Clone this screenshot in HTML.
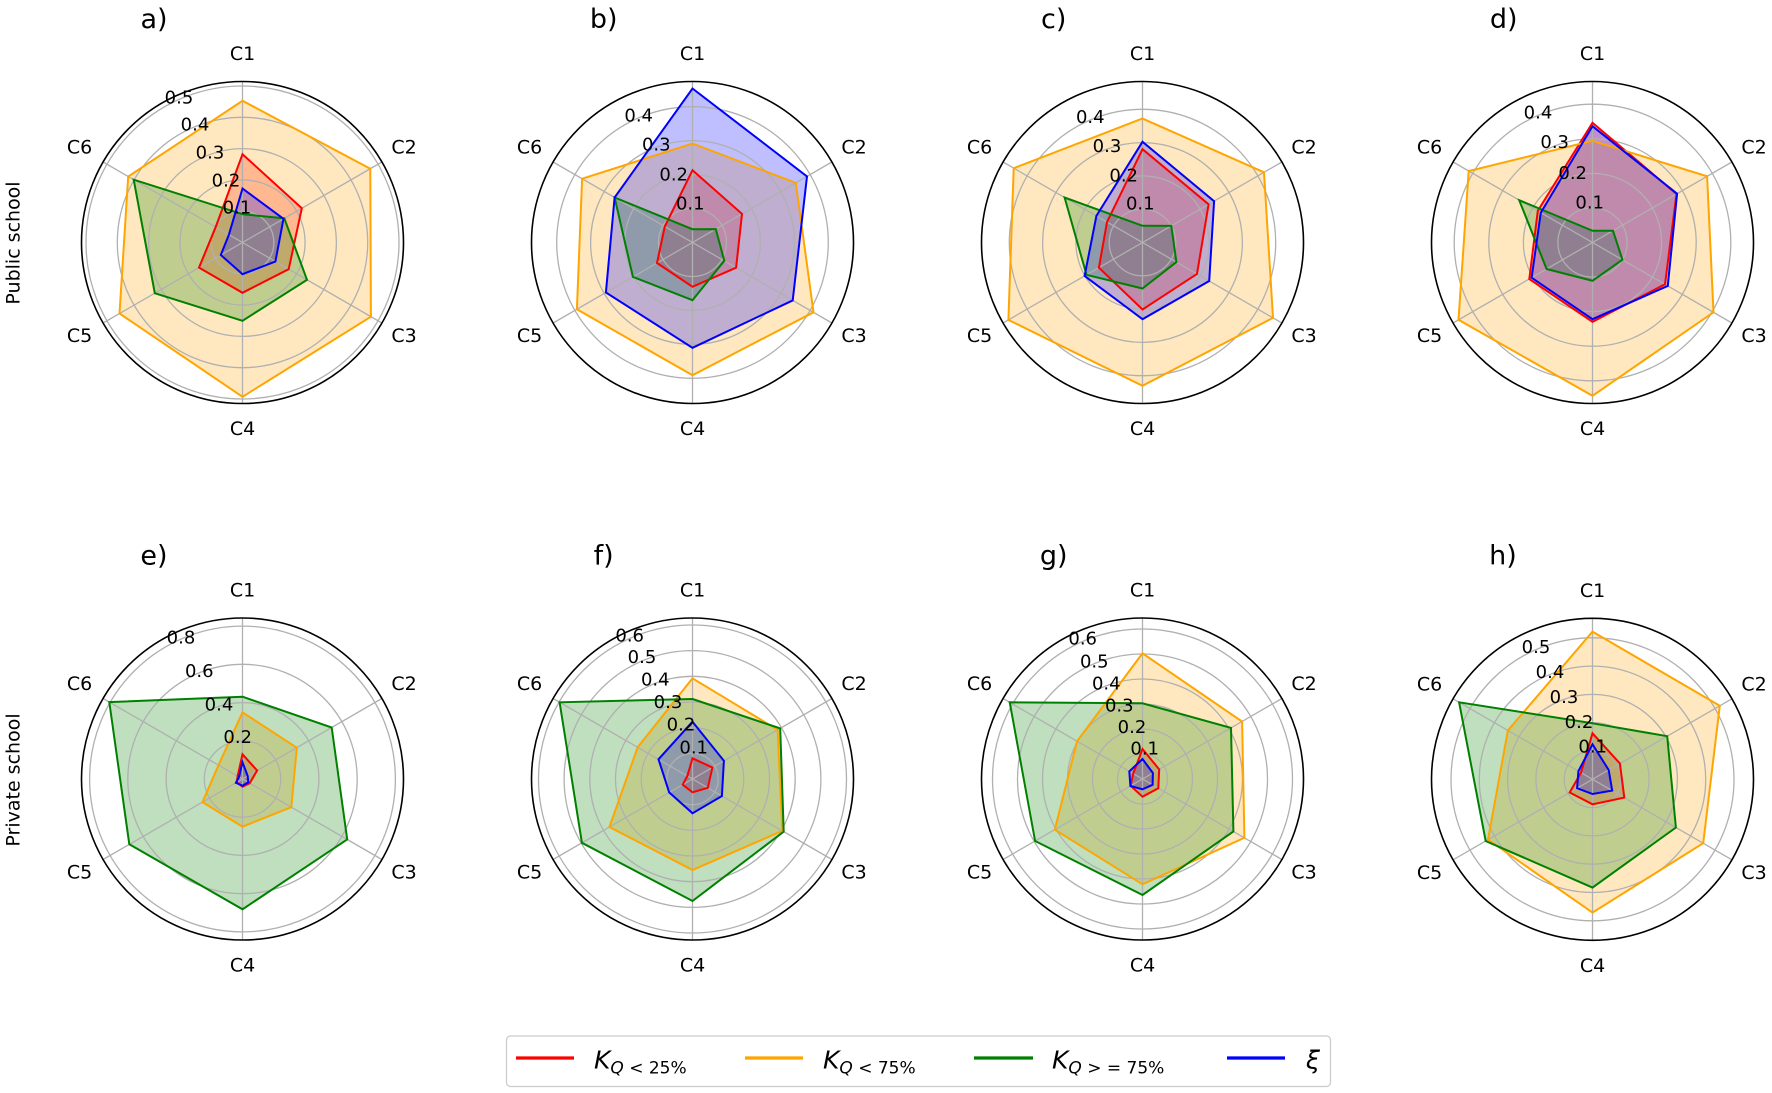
<!DOCTYPE html>
<html><head><meta charset="utf-8"><style>
html,body{margin:0;padding:0;background:#fff;}
svg{display:block;}
text{font-family:"DejaVu Sans","Liberation Sans",sans-serif;fill:#000;}
.fr{fill:#ff0000;fill-opacity:.25;stroke:none}
.fo{fill:#ffa500;fill-opacity:.25;stroke:none}
.fg{fill:#008000;fill-opacity:.25;stroke:none}
.fb{fill:#0000ff;fill-opacity:.25;stroke:none}
.lr{fill:none;stroke:#ff0000;stroke-width:2}
.lo{fill:none;stroke:#ffa500;stroke-width:2}
.lg{fill:none;stroke:#008000;stroke-width:2}
.lb{fill:none;stroke:#0000ff;stroke-width:2}
.grid{fill:none;stroke:#b0b0b0;stroke-width:1.3}
.sp{fill:none;stroke:#000;stroke-width:1.6}
.cl text{font-size:19px;text-anchor:middle}
.rl text{font-size:18px;text-anchor:middle}
.tt{font-size:27px;text-anchor:middle}
</style></head><body>
<svg width="1772" height="1093" viewBox="0 0 1772 1093" xmlns="http://www.w3.org/2000/svg">
<defs>
<path id="spk" d="M0,-161V161M-139.4,-80.5L139.4,80.5M-139.4,80.5L139.4,-80.5" class="grid"/>
</defs>
<rect width="1772" height="1093" fill="#fff"/>

<!-- a -->
<g transform="translate(242.5,242.5)">
<polygon class="fr" points="0,-88.3 59.3,-34.3 46.2,26.7 0,50.3 -43.5,25.1 -26.8,-15.5"/>
<polygon class="fo" points="0,-141.7 127.8,-73.8 128.4,74.2 0,154.3 -123,71 -114.3,-66"/>
<polygon class="fg" points="0,-28.3 41.8,-24.2 64.5,37.3 0,78.3 -87.7,50.7 -108.8,-62.8"/>
<polygon class="fb" points="0,-54 41,-23.7 32.9,19 0,31.7 -21.7,12.5 -13.6,-7.8"/>
<g class="grid"><circle r="31.3"/><circle r="62.6"/><circle r="93.9"/><circle r="125.2"/><circle r="156.5"/></g>
<use href="#spk"/>
<polygon class="lr" points="0,-88.3 59.3,-34.3 46.2,26.7 0,50.3 -43.5,25.1 -26.8,-15.5"/>
<polygon class="lo" points="0,-141.7 127.8,-73.8 128.4,74.2 0,154.3 -123,71 -114.3,-66"/>
<polygon class="lg" points="0,-28.3 41.8,-24.2 64.5,37.3 0,78.3 -87.7,50.7 -108.8,-62.8"/>
<polygon class="lb" points="0,-54 41,-23.7 32.9,19 0,31.7 -21.7,12.5 -13.6,-7.8"/>
<circle class="sp" r="161"/>
<g class="cl"><text x="0" y="-189" dy=".35em">C1</text><text x="161.5" y="-95.5" dy=".35em">C2</text><text x="161.5" y="93" dy=".35em">C3</text><text x="0" y="186" dy=".35em">C4</text><text x="-163" y="93" dy=".35em">C5</text><text x="-163" y="-95.5" dy=".35em">C6</text></g>
</g>
<g class="rl"><text x="237" y="207" dy=".35em">0.1</text><text x="226" y="180" dy=".35em">0.2</text><text x="210" y="152" dy=".35em">0.3</text><text x="195" y="124" dy=".35em">0.4</text><text x="179" y="97" dy=".35em">0.5</text></g>
<text class="tt" x="154" y="28">a)</text>

<!-- b -->
<g transform="translate(692.5,242.5)">
<polygon class="fr" points="0,-72.3 49.5,-28.6 43.6,25.2 0,44.3 -35.5,20.5 -27.7,-16"/>
<polygon class="fo" points="0,-99 103.3,-59.7 121,69.8 0,132.7 -115.6,66.8 -110.4,-63.8"/>
<polygon class="fg" points="0,-13.3 23.3,-13.4 31.8,18.3 0,57.7 -59.6,34.4 -77.9,-45"/>
<polygon class="fb" points="0,-154 114.5,-66.1 100.2,57.9 0,105.3 -86.6,50 -77.9,-45"/>
<g class="grid"><circle r="34"/><circle r="67.9"/><circle r="101.9"/><circle r="135.8"/></g>
<use href="#spk"/>
<polygon class="lr" points="0,-72.3 49.5,-28.6 43.6,25.2 0,44.3 -35.5,20.5 -27.7,-16"/>
<polygon class="lo" points="0,-99 103.3,-59.7 121,69.8 0,132.7 -115.6,66.8 -110.4,-63.8"/>
<polygon class="lg" points="0,-13.3 23.3,-13.4 31.8,18.3 0,57.7 -59.6,34.4 -77.9,-45"/>
<polygon class="lb" points="0,-154 114.5,-66.1 100.2,57.9 0,105.3 -86.6,50 -77.9,-45"/>
<circle class="sp" r="161"/>
<g class="cl"><text x="0" y="-189" dy=".35em">C1</text><text x="161.5" y="-95.5" dy=".35em">C2</text><text x="161.5" y="93" dy=".35em">C3</text><text x="0" y="186" dy=".35em">C4</text><text x="-163" y="93" dy=".35em">C5</text><text x="-163" y="-95.5" dy=".35em">C6</text></g>
</g>
<g class="rl"><text x="690.3" y="203.3" dy=".35em">0.1</text><text x="673.7" y="174" dy=".35em">0.2</text><text x="656.3" y="144" dy=".35em">0.3</text><text x="638.7" y="115" dy=".35em">0.4</text></g>
<text class="tt" x="603.7" y="28">b)</text>

<!-- c -->
<g transform="translate(1142.5,242.5)">
<polygon class="fr" points="0,-93.3 66.1,-38.2 54.5,31.4 0,67 -43.6,25.2 -35.5,-20.5"/>
<polygon class="fo" points="0,-124 121.5,-70.2 130.5,75.3 0,143.3 -134.1,77.4 -128.8,-74.3"/>
<polygon class="fg" points="0,-16.7 28.8,-16.6 33.9,19.6 0,46 -56,32.3 -77.9,-45"/>
<polygon class="fb" points="0,-100.7 71.6,-41.3 66.7,38.5 0,76.7 -57.9,33.4 -46.1,-26.6"/>
<g class="grid"><circle r="33.3"/><circle r="66.6"/><circle r="99.9"/><circle r="133.2"/></g>
<use href="#spk"/>
<polygon class="lr" points="0,-93.3 66.1,-38.2 54.5,31.4 0,67 -43.6,25.2 -35.5,-20.5"/>
<polygon class="lo" points="0,-124 121.5,-70.2 130.5,75.3 0,143.3 -134.1,77.4 -128.8,-74.3"/>
<polygon class="lg" points="0,-16.7 28.8,-16.6 33.9,19.6 0,46 -56,32.3 -77.9,-45"/>
<polygon class="lb" points="0,-100.7 71.6,-41.3 66.7,38.5 0,76.7 -57.9,33.4 -46.1,-26.6"/>
<circle class="sp" r="161"/>
<g class="cl"><text x="0" y="-189" dy=".35em">C1</text><text x="161.5" y="-95.5" dy=".35em">C2</text><text x="161.5" y="93" dy=".35em">C3</text><text x="0" y="186" dy=".35em">C4</text><text x="-163" y="93" dy=".35em">C5</text><text x="-163" y="-95.5" dy=".35em">C6</text></g>
</g>
<g class="rl"><text x="1140.3" y="203.3" dy=".35em">0.1</text><text x="1123.7" y="175" dy=".35em">0.2</text><text x="1107" y="145.7" dy=".35em">0.3</text><text x="1090.3" y="116.7" dy=".35em">0.4</text></g>
<text class="tt" x="1053.7" y="28">c)</text>

<!-- d -->
<g transform="translate(1592.5,242.5)">
<polygon class="fr" points="0,-119.7 84,-48.5 72.5,41.8 0,79.3 -63.2,36.5 -54.7,-31.6"/>
<polygon class="fo" points="0,-101.7 114.6,-66.2 121,69.8 0,153.3 -134,77.3 -123.8,-71.5"/>
<polygon class="fg" points="0,-11.7 20.5,-11.8 29.9,17.2 0,38.3 -45.9,26.5 -73.3,-42.3"/>
<polygon class="fb" points="0,-116.3 84.6,-48.8 75.3,43.4 0,76.7 -60.9,35.2 -51.7,-29.8"/>
<g class="grid"><circle r="34.6"/><circle r="69.1"/><circle r="103.7"/><circle r="138.3"/></g>
<use href="#spk"/>
<polygon class="lr" points="0,-119.7 84,-48.5 72.5,41.8 0,79.3 -63.2,36.5 -54.7,-31.6"/>
<polygon class="lo" points="0,-101.7 114.6,-66.2 121,69.8 0,153.3 -134,77.3 -123.8,-71.5"/>
<polygon class="lg" points="0,-11.7 20.5,-11.8 29.9,17.2 0,38.3 -45.9,26.5 -73.3,-42.3"/>
<polygon class="lb" points="0,-116.3 84.6,-48.8 75.3,43.4 0,76.7 -60.9,35.2 -51.7,-29.8"/>
<circle class="sp" r="161"/>
<g class="cl"><text x="0" y="-189" dy=".35em">C1</text><text x="161.5" y="-95.5" dy=".35em">C2</text><text x="161.5" y="93" dy=".35em">C3</text><text x="0" y="186" dy=".35em">C4</text><text x="-163" y="93" dy=".35em">C5</text><text x="-163" y="-95.5" dy=".35em">C6</text></g>
</g>
<g class="rl"><text x="1589.7" y="202.3" dy=".35em">0.1</text><text x="1572.7" y="172.7" dy=".35em">0.2</text><text x="1554.7" y="141.7" dy=".35em">0.3</text><text x="1538" y="112.3" dy=".35em">0.4</text></g>
<text class="tt" x="1503.7" y="28">d)</text>

<!-- e -->
<g transform="translate(242.5,779)">
<polygon class="fr" points="0,-24.7 14.6,-8.5 7.2,4.2 0,7.7 -5.8,3.3 -4.9,-2.8"/>
<polygon class="fo" points="0,-66.7 54.3,-31.3 48.8,28.2 0,47.7 -40,23.1 -24,-13.8"/>
<polygon class="fg" points="0,-82.3 89.2,-51.5 104.7,60.4 0,130.3 -113.2,65.3 -133.2,-76.9"/>
<polygon class="fb" points="0,-16.7 5.2,-3 5.8,3.3 0,6.7 -6.6,3.8 -3.5,-2"/>
<g class="grid"><circle r="38.2"/><circle r="76.4"/><circle r="114.7"/><circle r="152.9"/></g>
<use href="#spk"/>
<polygon class="lr" points="0,-24.7 14.6,-8.5 7.2,4.2 0,7.7 -5.8,3.3 -4.9,-2.8"/>
<polygon class="lo" points="0,-66.7 54.3,-31.3 48.8,28.2 0,47.7 -40,23.1 -24,-13.8"/>
<polygon class="lg" points="0,-82.3 89.2,-51.5 104.7,60.4 0,130.3 -113.2,65.3 -133.2,-76.9"/>
<polygon class="lb" points="0,-16.7 5.2,-3 5.8,3.3 0,6.7 -6.6,3.8 -3.5,-2"/>
<circle class="sp" r="161"/>
<g class="cl"><text x="0" y="-189" dy=".35em">C1</text><text x="161.5" y="-95.5" dy=".35em">C2</text><text x="161.5" y="93" dy=".35em">C3</text><text x="0" y="186" dy=".35em">C4</text><text x="-163" y="93" dy=".35em">C5</text><text x="-163" y="-95.5" dy=".35em">C6</text></g>
</g>
<g class="rl"><text x="237.7" y="736.7" dy=".35em">0.2</text><text x="219" y="704" dy=".35em">0.4</text><text x="199.3" y="670.7" dy=".35em">0.6</text><text x="181" y="637.3" dy=".35em">0.8</text></g>
<text class="tt" x="154" y="564.5">e)</text>

<!-- f -->
<g transform="translate(692.5,779)">
<polygon class="fr" points="0,-20.7 19.9,-11.5 15.3,8.8 0,13.3 -9.8,5.7 -5.2,-3"/>
<polygon class="fo" points="0,-100.7 85.1,-49.2 89.8,51.8 0,91 -83.1,48 -54.8,-31.7"/>
<polygon class="fg" points="0,-80 87.7,-50.6 91.2,52.7 0,122 -110.6,63.8 -132.9,-76.7"/>
<polygon class="fb" points="0,-57.3 31.4,-18.2 29.4,17 0,34.3 -23.3,13.4 -34,-19.7"/>
<g class="grid"><circle r="25.7"/><circle r="51.3"/><circle r="77"/><circle r="102.7"/><circle r="128.4"/><circle r="154"/></g>
<use href="#spk"/>
<polygon class="lr" points="0,-20.7 19.9,-11.5 15.3,8.8 0,13.3 -9.8,5.7 -5.2,-3"/>
<polygon class="lo" points="0,-100.7 85.1,-49.2 89.8,51.8 0,91 -83.1,48 -54.8,-31.7"/>
<polygon class="lg" points="0,-80 87.7,-50.6 91.2,52.7 0,122 -110.6,63.8 -132.9,-76.7"/>
<polygon class="lb" points="0,-57.3 31.4,-18.2 29.4,17 0,34.3 -23.3,13.4 -34,-19.7"/>
<circle class="sp" r="161"/>
<g class="cl"><text x="0" y="-189" dy=".35em">C1</text><text x="161.5" y="-95.5" dy=".35em">C2</text><text x="161.5" y="93" dy=".35em">C3</text><text x="0" y="186" dy=".35em">C4</text><text x="-163" y="93" dy=".35em">C5</text><text x="-163" y="-95.5" dy=".35em">C6</text></g>
</g>
<g class="rl"><text x="693.7" y="747.3" dy=".35em">0.1</text><text x="681" y="724.3" dy=".35em">0.2</text><text x="668" y="701.7" dy=".35em">0.3</text><text x="655.3" y="679.3" dy=".35em">0.4</text><text x="642" y="656.7" dy=".35em">0.5</text><text x="629.7" y="635" dy=".35em">0.6</text></g>
<text class="tt" x="603.7" y="564.5">f)</text>

<!-- g -->
<g transform="translate(1142.5,779)">
<polygon class="fr" points="0,-30 16.7,-9.6 15.8,9.2 0,17.7 -11.9,6.8 -9.3,-5.3"/>
<polygon class="fo" points="0,-125.7 99.6,-57.5 101.9,58.8 0,105.3 -87.7,50.7 -65.4,-37.8"/>
<polygon class="fg" points="0,-75.7 88.5,-51.1 90.9,52.5 0,116 -107.4,62 -132.8,-76.7"/>
<polygon class="fb" points="0,-20 10.4,-6 10.1,5.8 0,10.3 -12.1,7 -13.2,-7.6"/>
<g class="grid"><circle r="25"/><circle r="50"/><circle r="75"/><circle r="100"/><circle r="125"/><circle r="150"/></g>
<use href="#spk"/>
<polygon class="lr" points="0,-30 16.7,-9.6 15.8,9.2 0,17.7 -11.9,6.8 -9.3,-5.3"/>
<polygon class="lo" points="0,-125.7 99.6,-57.5 101.9,58.8 0,105.3 -87.7,50.7 -65.4,-37.8"/>
<polygon class="lg" points="0,-75.7 88.5,-51.1 90.9,52.5 0,116 -107.4,62 -132.8,-76.7"/>
<polygon class="lb" points="0,-20 10.4,-6 10.1,5.8 0,10.3 -12.1,7 -13.2,-7.6"/>
<circle class="sp" r="161"/>
<g class="cl"><text x="0" y="-189" dy=".35em">C1</text><text x="161.5" y="-95.5" dy=".35em">C2</text><text x="161.5" y="93" dy=".35em">C3</text><text x="0" y="186" dy=".35em">C4</text><text x="-163" y="93" dy=".35em">C5</text><text x="-163" y="-95.5" dy=".35em">C6</text></g>
</g>
<g class="rl"><text x="1144.7" y="748.3" dy=".35em">0.1</text><text x="1132" y="726.7" dy=".35em">0.2</text><text x="1119.3" y="705" dy=".35em">0.3</text><text x="1106.3" y="683.3" dy=".35em">0.4</text><text x="1094.3" y="661" dy=".35em">0.5</text><text x="1082.7" y="638.3" dy=".35em">0.6</text></g>
<text class="tt" x="1053.7" y="564.5">g)</text>

<!-- h -->
<g transform="translate(1592.5,779.3)">
<polygon class="fr" points="0,-46 27.4,-15.8 31.8,18.3 0,25 -22.8,13.2 -11.5,-6.7"/>
<polygon class="fo" points="0,-147.7 127.3,-73.5 110.7,63.9 0,133.3 -104.5,60.3 -84.6,-48.8"/>
<polygon class="fg" points="0,-56 74.7,-43.1 83.4,48.2 0,108.3 -106.8,61.7 -133.4,-77"/>
<polygon class="fb" points="0,-35 16.2,-9.3 19.7,11.3 0,14.7 -15.4,8.9 -14.1,-8.2"/>
<g class="grid"><circle r="28.3"/><circle r="56.6"/><circle r="84.9"/><circle r="113.2"/><circle r="141.5"/></g>
<use href="#spk"/>
<polygon class="lr" points="0,-46 27.4,-15.8 31.8,18.3 0,25 -22.8,13.2 -11.5,-6.7"/>
<polygon class="lo" points="0,-147.7 127.3,-73.5 110.7,63.9 0,133.3 -104.5,60.3 -84.6,-48.8"/>
<polygon class="lg" points="0,-56 74.7,-43.1 83.4,48.2 0,108.3 -106.8,61.7 -133.4,-77"/>
<polygon class="lb" points="0,-35 16.2,-9.3 19.7,11.3 0,14.7 -15.4,8.9 -14.1,-8.2"/>
<circle class="sp" r="161"/>
<g class="cl"><text x="0" y="-189" dy=".35em">C1</text><text x="161.5" y="-95.5" dy=".35em">C2</text><text x="161.5" y="93" dy=".35em">C3</text><text x="0" y="186" dy=".35em">C4</text><text x="-163" y="93" dy=".35em">C5</text><text x="-163" y="-95.5" dy=".35em">C6</text></g>
</g>
<g class="rl"><text x="1592.7" y="746" dy=".35em">0.1</text><text x="1579" y="721.7" dy=".35em">0.2</text><text x="1564" y="696.7" dy=".35em">0.3</text><text x="1550" y="671.7" dy=".35em">0.4</text><text x="1536" y="646.7" dy=".35em">0.5</text></g>
<text class="tt" x="1503" y="564.5">h)</text>

<!-- row labels -->
<text transform="translate(13,243) rotate(-90)" text-anchor="middle" dy=".35em" font-size="19">Public school</text>
<text transform="translate(13,780) rotate(-90)" text-anchor="middle" dy=".35em" font-size="19">Private school</text>

<!-- legend -->
<rect x="506.5" y="1036" width="824" height="50.5" rx="4" ry="4" fill="#fff" stroke="#cccccc" stroke-width="1.3"/>
<line x1="516" y1="1058" x2="574" y2="1058" stroke="#ff0000" stroke-width="3.2"/>
<line x1="745" y1="1058" x2="803" y2="1058" stroke="#ffa500" stroke-width="3.2"/>
<line x1="974" y1="1058" x2="1033" y2="1058" stroke="#008000" stroke-width="3.2"/>
<line x1="1227" y1="1058" x2="1285" y2="1058" stroke="#0000ff" stroke-width="3.2"/>
<text x="594" y="1068.5" font-size="25"><tspan font-style="italic">K</tspan><tspan font-size="17" dy="5"><tspan font-style="italic">Q</tspan> &lt; 25%</tspan></text>
<text x="823" y="1068.5" font-size="25"><tspan font-style="italic">K</tspan><tspan font-size="17" dy="5"><tspan font-style="italic">Q</tspan> &lt; 75%</tspan></text>
<text x="1052" y="1068.5" font-size="25"><tspan font-style="italic">K</tspan><tspan font-size="17" dy="5"><tspan font-style="italic">Q</tspan> &gt; = 75%</tspan></text>
<text x="1306" y="1068.5" font-size="25" font-style="italic">ξ</text>
</svg>
</body></html>
